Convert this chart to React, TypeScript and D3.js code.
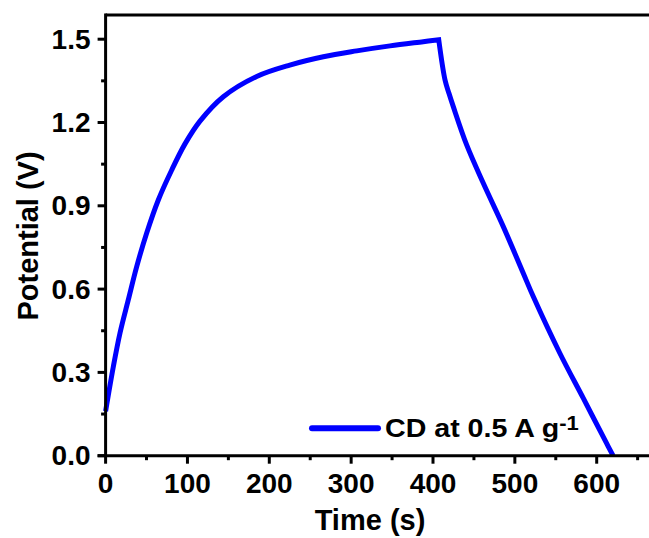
import React from "react";
import * as d3 from "d3";

const chargeTime = [0, 9.4, 17.6, 27.7, 38, 50.2, 64.4, 80.8, 97, 115.3, 143.8, 184.6, 225, 266, 306.8, 347.5, 388, 407];
const chargeV = [0.16, 0.32, 0.442, 0.561, 0.681, 0.802, 0.921, 1.029, 1.123, 1.205, 1.293, 1.366, 1.407, 1.437, 1.458, 1.476, 1.491, 1.498];
const dischargeTime = [407, 414.7, 419.5, 424.8, 441, 461.5, 485.9, 510.3, 522.5, 555, 583.6, 612, 620];
const dischargeV = [1.498, 1.353, 1.305, 1.257, 1.12, 0.981, 0.825, 0.657, 0.573, 0.369, 0.207, 0.045, 0.0];
const xTicks = [0, 100, 200, 300, 400, 500, 600];
const xMinorTicks = [50, 150, 250, 350, 450, 550, 650];
const yTicks = [0, 0.3, 0.6, 0.9, 1.2, 1.5];
const yMinorTicks = [0.15, 0.45, 0.75, 1.05, 1.35];
const legendLabel = "CD at 0.5 A g";
const legendSup = "-1";
const xTitle = "Time (s)";
const yTitle = "Potential (V)";

const W = 649, H = 538;
const left = 105.6, bottom = 455.7, top = 15;

export default function App() {
  const x = d3.scaleLinear().domain([0, 100]).range([left, left + 81.85]);
  const y = d3.scaleLinear().domain([0, 1.5]).range([bottom, bottom - 416.5]);
  const chargePath =
    d3.line<number>().x((_, i) => x(chargeTime[i])).y((v) => y(v)).curve(d3.curveCatmullRom.alpha(0.5))(chargeV) || "";
  const dischargePath =
    d3.line<number>().x((_, i) => x(dischargeTime[i])).y((v) => y(v)).curve(d3.curveCatmullRom.alpha(0.5))(dischargeV) || "";
  const font = "'Liberation Sans', Arial, sans-serif";
  const fsTick = 28;
  const fsTitle = 29;
  return (
    <svg width={W} height={H} style={{ position: "absolute", left: 0, top: 0, background: "#fff" }} fontFamily={font}>
      <path d={chargePath + dischargePath.replace(/^M/, "L")} fill="none" stroke="#0000ff" strokeWidth={5} strokeLinejoin="miter" />
      {/* frame */}
      <line x1={left} x2={W + 5} y1={top} y2={top} stroke="#000" strokeWidth={3} />
      <line x1={left} x2={left} y1={top - 1.5} y2={bottom + 1.5} stroke="#000" strokeWidth={3} />
      <line x1={left - 8} x2={W + 5} y1={bottom} y2={bottom} stroke="#000" strokeWidth={3} />
      {xTicks.map((t) => (
        <g key={"xt" + t}>
          <line x1={x(t)} x2={x(t)} y1={bottom} y2={bottom + 8} stroke="#000" strokeWidth={3} />
          <text x={x(t)} y={492.7} textAnchor="middle" fontSize={fsTick} fontWeight="bold">{t}</text>
        </g>
      ))}
      {xMinorTicks.map((t) => (
        <line key={"xm" + t} x1={x(t)} x2={x(t)} y1={bottom} y2={bottom + 4.5} stroke="#000" strokeWidth={3} />
      ))}
      {yTicks.map((t) => (
        <g key={"yt" + t}>
          <line x1={left - 8} x2={left} y1={y(t)} y2={y(t)} stroke="#000" strokeWidth={3} />
          <text x={90.5} y={y(t) + 9.5} textAnchor="end" fontSize={fsTick} fontWeight="bold">{t.toFixed(1)}</text>
        </g>
      ))}
      {yMinorTicks.map((t) => (
        <line key={"ym" + t} x1={left - 4.5} x2={left} y1={y(t)} y2={y(t)} stroke="#000" strokeWidth={3} />
      ))}
      <text x={370} y={530} textAnchor="middle" fontSize={fsTitle} fontWeight="bold">{xTitle}</text>
      <text transform={`translate(37.5,236) rotate(-90)`} textAnchor="middle" fontSize={fsTitle} fontWeight="bold">{yTitle}</text>
      {/* legend */}
      <line x1={312} x2={378} y1={428.3} y2={428.3} stroke="#0000ff" strokeWidth={6} strokeLinecap="round" />
      <text transform="translate(385,437) scale(1.1,1)" fontSize={26} fontWeight="bold">
        {legendLabel}
        <tspan dy={-7} fontSize={20}>{legendSup}</tspan>
      </text>
    </svg>
  );
}
